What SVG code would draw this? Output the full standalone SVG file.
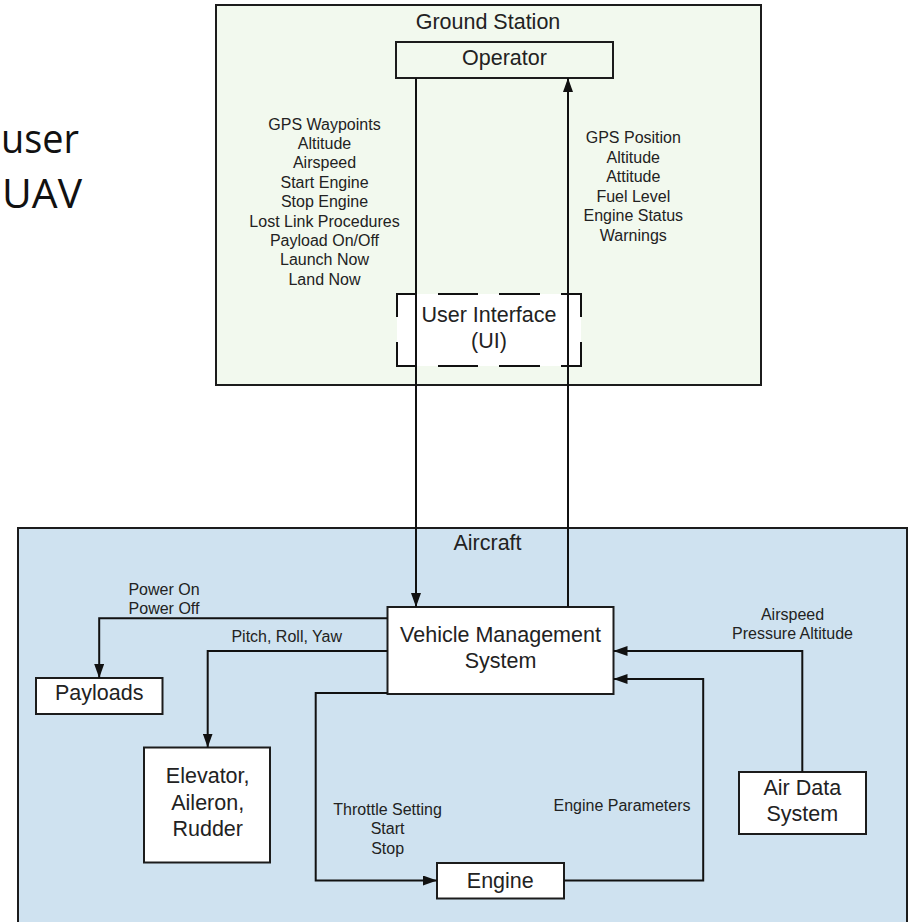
<svg xmlns="http://www.w3.org/2000/svg" width="909" height="922" viewBox="0 0 909 922">
  <defs>
    <style>
      .box { fill: #ffffff; stroke: #1c1c1c; stroke-width: 2; }
      .big { font-family: "Liberation Sans", Arial, sans-serif; font-size: 21.5px; fill: #222; text-anchor: middle; }
      .lbl { font-family: "Liberation Sans", Arial, sans-serif; font-size: 16px; fill: #222; text-anchor: middle; }
      .slide { font-family: "Open Sans", "Noto Sans", sans-serif; font-size: 40px; fill: #111; }
      .wire { fill: none; stroke: #111; stroke-width: 2; }
      .dash { fill: none; stroke: #111; stroke-width: 2; }
    </style>
    <marker id="arrow" markerUnits="userSpaceOnUse" markerWidth="14" markerHeight="10" refX="14" refY="5" orient="auto">
      <path d="M0,0 L14,5 L0,10 z" fill="#111"/>
    </marker>
  </defs>

  <rect width="909" height="922" fill="#ffffff"/>

  <!-- slide text behind the chart -->
  <text class="slide" x="1" y="153" textLength="78" lengthAdjust="spacingAndGlyphs">user</text>
  <text class="slide" x="2" y="208" textLength="80" lengthAdjust="spacingAndGlyphs">UAV</text>

  <!-- Ground Station container -->
  <g id="ground-station">
    <rect x="216" y="5" width="545" height="380" fill="#f2f9ee" stroke="#1c1c1c" stroke-width="2"/>
    <text class="big" x="488" y="29">Ground Station</text>
  </g>

  <g id="operator">
    <rect x="396" y="42" width="217" height="36" fill="#f2f9ee" stroke="#1c1c1c" stroke-width="2"/>
    <text class="big" x="504.5" y="64.5" fill="#333">Operator</text>
  </g>

  <g id="user-interface">
    <rect x="397" y="294" width="184" height="72" fill="#ffffff"/>
    <path class="dash" d="M397,317 V294 H415 M438,294 H478 M499,294 H540 M561,294 H581 V317 M581,342 V366 H561 M540,366 H499 M478,366 H438 M415,366 H397 V342"/>
    <text class="big" x="489" y="322">User Interface</text>
    <text class="big" x="489" y="347.5">(UI)</text>
  </g>

  <!-- Aircraft container -->
  <g id="aircraft">
    <rect x="18" y="528" width="889" height="410" fill="#cfe2f0" stroke="#1c1c1c" stroke-width="2"/>
    <text class="big" x="487.5" y="550">Aircraft</text>
  </g>

  <g id="vms">
    <rect class="box" x="387.5" y="607" width="226" height="87"/>
    <text class="big" x="500.5" y="641.5">Vehicle Management</text>
    <text class="big" x="500.5" y="668">System</text>
  </g>

  <g id="payloads">
    <rect class="box" x="36" y="678" width="126.5" height="36"/>
    <text class="big" x="99.2" y="700">Payloads</text>
  </g>

  <g id="control-surfaces">
    <rect class="box" x="144" y="747.5" width="126" height="115"/>
    <text class="big" x="207.7" y="783.3">Elevator,</text>
    <text class="big" x="207.7" y="809.8">Aileron,</text>
    <text class="big" x="207.7" y="836.3">Rudder</text>
  </g>

  <g id="engine">
    <rect class="box" x="437" y="863" width="127" height="35.5"/>
    <text class="big" x="500.3" y="888">Engine</text>
  </g>

  <g id="air-data">
    <rect class="box" x="739" y="772" width="127" height="62"/>
    <text class="big" x="802.3" y="794.5">Air Data</text>
    <text class="big" x="802.3" y="821">System</text>
  </g>

  <!-- connectors and their labels -->
  <g id="connectors">
    <path class="wire" d="M416,78 V607" marker-end="url(#arrow)"/>
    <path class="wire" d="M568,607 V78" marker-end="url(#arrow)"/>
    <path class="wire" d="M387.5,618.3 H99.2 V678" marker-end="url(#arrow)"/>
    <path class="wire" d="M387.5,651 H207.7 V747.5" marker-end="url(#arrow)"/>
    <path class="wire" d="M387.5,693 H315.7 V880.5 H437" marker-end="url(#arrow)"/>
    <path class="wire" d="M564,880.5 H703.2 V679 H613.5" marker-end="url(#arrow)"/>
    <path class="wire" d="M802.3,772 V651 H613.5" marker-end="url(#arrow)"/>

    <g id="uplink-label">
      <text class="lbl" x="324.5" y="129.5">GPS Waypoints</text>
      <text class="lbl" x="324.5" y="149">Altitude</text>
      <text class="lbl" x="324.5" y="168.4">Airspeed</text>
      <text class="lbl" x="324.5" y="187.8">Start Engine</text>
      <text class="lbl" x="324.5" y="207.2">Stop Engine</text>
      <text class="lbl" x="324.5" y="226.6">Lost Link Procedures</text>
      <text class="lbl" x="324.5" y="246">Payload On/Off</text>
      <text class="lbl" x="324.5" y="265.4">Launch Now</text>
      <text class="lbl" x="324.5" y="284.8">Land Now</text>
    </g>
    <g id="downlink-label">
      <text class="lbl" x="633.3" y="143">GPS Position</text>
      <text class="lbl" x="633.3" y="162.5">Altitude</text>
      <text class="lbl" x="633.3" y="182">Attitude</text>
      <text class="lbl" x="633.3" y="201.5">Fuel Level</text>
      <text class="lbl" x="633.3" y="221">Engine Status</text>
      <text class="lbl" x="633.3" y="240.5">Warnings</text>
    </g>
    <text class="lbl" x="164" y="595">Power On</text>
    <text class="lbl" x="164" y="614.3">Power Off</text>
    <text class="lbl" x="286.7" y="641.7">Pitch, Roll, Yaw</text>
    <text class="lbl" x="792.5" y="620">Airspeed</text>
    <text class="lbl" x="792.5" y="639.3">Pressure Altitude</text>
    <text class="lbl" x="387.6" y="815">Throttle Setting</text>
    <text class="lbl" x="387.6" y="834.3">Start</text>
    <text class="lbl" x="387.6" y="853.5">Stop</text>
    <text class="lbl" x="622" y="811">Engine Parameters</text>
  </g>
</svg>
